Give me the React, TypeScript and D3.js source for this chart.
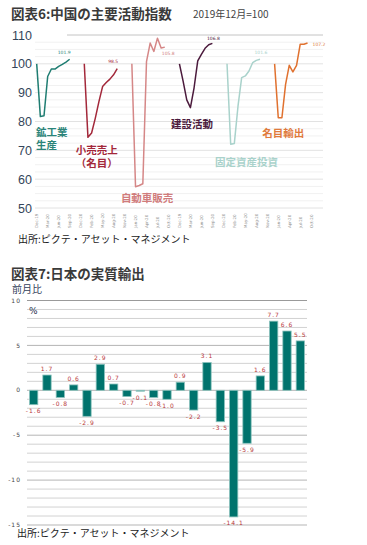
import React from "react";
import * as d3 from "d3";

// ---------- Top chart data (China activity index, Dec-2019 = 100) ----------
const seriesNames = ["鉱工業生産", "小売売上（名目）", "自動車販売", "建設活動", "固定資産投資", "名目輸出"];
const ipValues = [100, 81.7, 82.0, 95.6, 98.2, 98.2, 99.1, 99.8, 100.6, 101.6];
const retailValues = [100, 74.5, 76.0, 81.1, 86.9, 92.1, 93.5, 94.7, 96.2, 98.3];
const autoValues = [100, 57.4, 57.8, 58.4, 100.8, 107.2, 104.3, 108.9, 105.5, 105.8];
const constructionValues = [100, 94.0, 87.5, 84.8, 91.7, 101.0, 103.3, 105.4, 106.6, 107.1];
const fixedInvValues = [100, 72.1, 72.4, 85.3, 95.2, 95.8, 97.5, 100.4, 101.2, 101.6];
const exportValues = [100, 81.3, 81.3, 92.9, 99.5, 97.2, 99.5, 106.8, 106.8, 107.2];
const endLabels = ["101.9", "98.5", "105.8", "106.8", "101.6", "107.2"];
const topYTicks = [50, 60, 70, 80, 90, 100, 110];
const topXTickLabels = [
  "Dec-19", "Mar-20", "Jun-20", "Sep-20", "Dec-20", "Feb-20", "May-20", "Aug-20", "Nov-20",
  "Jan-20", "Apr-20", "Jul-20", "Oct-20", "Dec-19", "Mar-20", "Jun-20", "Sep-20", "Dec-20",
  "Feb-20", "May-20", "Aug-20", "Nov-20", "Jan-20", "Apr-20", "Jul-20", "Oct-20",
];

// ---------- Bottom chart data (Japan real exports, m/m %) ----------
const exportMonths = [
  "2019-01", "2019-02", "2019-03", "2019-04", "2019-05", "2019-06", "2019-07",
  "2019-08", "2019-09", "2019-10", "2019-11", "2019-12", "2020-01", "2020-02",
  "2020-03", "2020-04", "2020-05", "2020-06", "2020-07", "2020-08", "2020-09",
];
const exportMoM = [-1.6, 1.7, -0.8, 0.6, -2.9, 2.9, 0.7, -0.7, -0.1, -0.8, -1.0, 0.9, -2.2, 3.1, -3.5, -14.1, -5.9, 1.6, 7.7, 6.6, 5.5];
const bottomYTicks = [10, 5, 0, -5, -10, -15];

const CJK = "'Noto Sans CJK JP', 'Noto Sans', sans-serif";

export default function App() {
  const allSeries = [ipValues, retailValues, autoValues, constructionValues, fixedInvValues, exportValues];
  const colors = ["#1f7d72", "#a3283a", "#d58787", "#4b1a3c", "#a9d2cb", "#e0712f"];
  const labelColors = ["#2a8479", "#a3283a", "#d07c7c", "#4b1a3c", "#a9d2cb", "#e07a3c"];
  const blockSlots = 13;

  const xTop = d3.scaleLinear().domain([0, 74]).range([36.7, 36.7 + 74 * 3.66]);
  const yTop = d3.scaleLinear().domain([50, 110]).range([208, 35]);
  const line = d3
    .line<[number, number]>()
    .x((d) => xTop(d[0]))
    .y((d) => yTop(d[1]));

  // end label placement offsets (dx, dy, anchor)
  const endLabelPos: [number, number, string][] = [
    [1, -5, "end"],
    [1, -6, "end"],
    [-3, 8, "start"],
    [1, -3, "middle"],
    [1, -5, "middle"],
    [5, 2.5, "start"],
  ];

  // series name annotations: [slot, value, lines]
  const nameAnn: [number, number, string[]][] = [
    [-0.2, 74.8, ["鉱工業", "生産"]],
    [10.7, 68.6, ["小売売上", "（名目）"]],
    [23.0, 52.1, ["自動車販売"]],
    [36.7, 77.7, ["建設活動"]],
    [48.7, 64.4, ["固定資産投資"]],
    [61.6, 74.5, ["名目輸出"]],
  ];

  const minorTop = d3.range(50, 110.01, 2.5);

  // bottom chart scales
  const xB = d3.scaleBand<string>().domain(exportMonths).range([27, 307]).paddingInner(0.375).paddingOuter(0.1875);
  const yB = d3.scaleLinear().domain([-15, 10]).range([525, 300.5]);
  const gridB = d3.range(-15, 10.01, 1);

  return (
    <svg
      width={367}
      height={545}
      style={{ position: "absolute", left: 0, top: 0, background: "#fff" }}
      fontFamily={CJK}
    >
      {/* ---------------- Top chart ---------------- */}
      <text x={11} y={18.5} fontSize={13.5} fontWeight={700} fill="#3a3a3a">
        図表6:中国の主要活動指数
      </text>
      <text x={193} y={17.5} fontSize={10} fill="#444">
        2019年12月=100
      </text>

      {minorTop.map((v) => (
        <line
          key={"mt" + v}
          x1={v === 110 ? 67 : 35}
          x2={323}
          y1={yTop(v)}
          y2={yTop(v)}
          stroke={v === 110 ? "#c4c4c4" : v % 10 === 0 ? "#e2e2e2" : "#f1f1f1"}
          strokeWidth={1}
        />
      ))}
      {topYTicks.map((v) => (
        <text
          key={"yt" + v}
          x={32}
          y={yTop(v)}
          dy="0.36em"
          textAnchor="end"
          fontSize={12.5}
          fontFamily="'Liberation Sans', Arial, sans-serif"
          fill="#34455a"
        >
          {v}
        </text>
      ))}
      {topXTickLabels.map((t, i) => (
        <text
          key={"xt" + i}
          transform={`translate(${xTop(i * 3) + 1.5},228) rotate(-90)`}
          fontSize={4}
          fill="#8a8a8a"
          fontFamily="'DejaVu Sans', sans-serif"
        >
          {t}
        </text>
      ))}

      {allSeries.map((vals, si) => {
        const pts: [number, number][] = vals.map((v, j) => [si * blockSlots + j, v]);
        const last = pts[pts.length - 1];
        const [dx, dy, anchor] = endLabelPos[si];
        return (
          <g key={"s" + si}>
            <path d={line(pts) || ""} fill="none" stroke={colors[si]} strokeWidth={1.5} strokeLinejoin="round" />
            <text
              x={xTop(last[0]) + dx}
              y={yTop(last[1]) + dy}
              textAnchor={anchor}
              fontSize={4.5}
              fill={labelColors[si]}
              fontFamily="'DejaVu Sans', sans-serif"
            >
              {endLabels[si]}
            </text>
          </g>
        );
      })}
      {nameAnn.map(([slot, v, lines], i) => (
        <g key={"na" + i} aria-label={seriesNames[i]}>
          {lines.map((l, k) => (
            <text
              key={k}
              x={xTop(slot)}
              y={yTop(v) + k * 12.5}
              fontSize={10.5}
              fontWeight={700}
              fill={labelColors[i]}
            >
              {l}
            </text>
          ))}
        </g>
      ))}
      <text x={18} y={243} fontSize={10} fill="#222">
        出所:ピクテ・アセット・マネジメント
      </text>

      {/* ---------------- Bottom chart ---------------- */}
      <text x={11} y={279} fontSize={13.5} fontWeight={700} fill="#3a3a3a">
        図表7:日本の実質輸出
      </text>
      <text x={12} y={293} fontSize={10} fill="#33405a">
        前月比
      </text>

      {gridB.map((v) => (
        <line
          key={"gb" + v}
          x1={27}
          x2={307}
          y1={yB(v)}
          y2={yB(v)}
          stroke={v === 10 ? "#9a9a9a" : v % 5 === 0 ? "#b5b5b5" : "#d2d2d2"}
          strokeWidth={1}
        />
      ))}
      {bottomYTicks.map((v) => (
        <text
          key={"by" + v}
          x={21}
          y={yB(v)}
          dy="0.35em"
          textAnchor="end"
          fontSize={6}
          letterSpacing={1}
          fill="#444"
          fontFamily="'DejaVu Sans', sans-serif"
        >
          {v}
        </text>
      ))}
      <text x={29} y={314} fontSize={9} fill="#2b3550" fontFamily="'DejaVu Sans', sans-serif">
        %
      </text>

      {exportMoM.map((v, i) => {
        const x = xB(exportMonths[i]) as number;
        const w = xB.bandwidth();
        const y0 = yB(0);
        const y1 = yB(v);
        return (
          <g key={"b" + i}>
            <rect
              x={x}
              y={Math.min(y0, y1)}
              width={w}
              height={Math.abs(y1 - y0)}
              fill="#00736d"
              stroke="#8cc3bd"
              strokeWidth={0.8}
            />
            <text
              x={x + w / 2}
              y={v >= 0 ? y1 - 4 : y1 + 8.5}
              textAnchor="middle"
              fontSize={6}
              letterSpacing={1}
              fill="#b8383a"
              fontFamily="'DejaVu Sans', sans-serif"
            >
              {v.toFixed(1)}
            </text>
          </g>
        );
      })}
      <text x={17} y={537} fontSize={10} fill="#222">
        出所:ピクテ・アセット・マネジメント
      </text>
    </svg>
  );
}
